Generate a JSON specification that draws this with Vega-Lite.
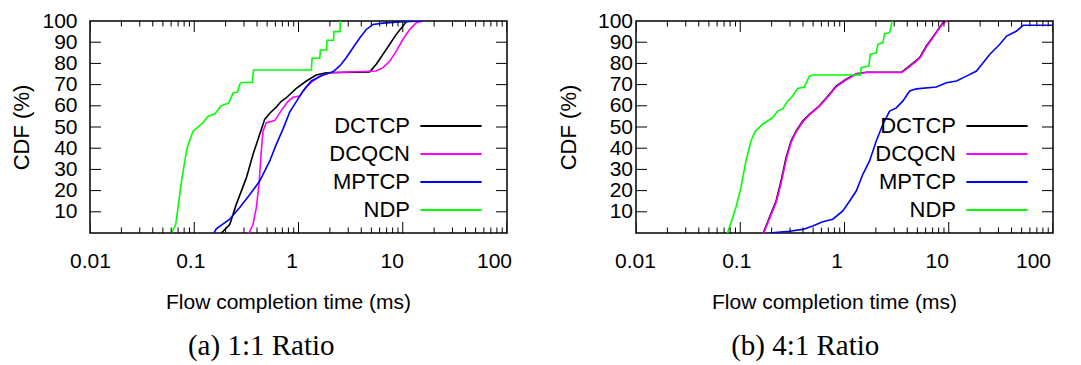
{
  "$schema": "https://vega.github.io/schema/vega-lite/v6.json",
  "padding": {"left": 10, "top": 9, "right": 5, "bottom": 5},
  "background": "white",
  "datasets": {
    "curves": [
    {"p":"a","s":"DCTCP","x":0.182,"y":0},{"p":"a","s":"DCTCP","x":0.219,"y":4},{"p":"a","s":"DCTCP","x":0.253,"y":13.5},{"p":"a","s":"DCTCP","x":0.316,"y":26},{"p":"a","s":"DCTCP","x":0.366,"y":37},{"p":"a","s":"DCTCP","x":0.424,"y":46.5},{"p":"a","s":"DCTCP","x":0.474,"y":53.6},{"p":"a","s":"DCTCP","x":0.53,"y":56.5},{"p":"a","s":"DCTCP","x":0.612,"y":59.4},{"p":"a","s":"DCTCP","x":0.68,"y":62},{"p":"a","s":"DCTCP","x":0.764,"y":63.8},{"p":"a","s":"DCTCP","x":0.953,"y":68.2},{"p":"a","s":"DCTCP","x":1.19,"y":71.7},{"p":"a","s":"DCTCP","x":1.48,"y":74.5},{"p":"a","s":"DCTCP","x":1.85,"y":75.6},{"p":"a","s":"DCTCP","x":4.82,"y":76},{"p":"a","s":"DCTCP","x":5.57,"y":79.6},{"p":"a","s":"DCTCP","x":6.47,"y":84.3},{"p":"a","s":"DCTCP","x":7.5,"y":89},{"p":"a","s":"DCTCP","x":8.67,"y":93.7},{"p":"a","s":"DCTCP","x":10.06,"y":97.6},{"p":"a","s":"DCTCP","x":10.8,"y":99.7},{"p":"a","s":"DCTCP","x":12,"y":100},
    {"p":"a","s":"DCQCN","x":0.335,"y":0},{"p":"a","s":"DCQCN","x":0.366,"y":4},{"p":"a","s":"DCQCN","x":0.394,"y":12},{"p":"a","s":"DCQCN","x":0.418,"y":23},{"p":"a","s":"DCQCN","x":0.44,"y":38.7},{"p":"a","s":"DCQCN","x":0.4565,"y":48},{"p":"a","s":"DCQCN","x":0.491,"y":52},{"p":"a","s":"DCQCN","x":0.591,"y":53},{"p":"a","s":"DCQCN","x":0.71,"y":59},{"p":"a","s":"DCQCN","x":0.793,"y":62},{"p":"a","s":"DCQCN","x":0.885,"y":64},{"p":"a","s":"DCQCN","x":1.027,"y":64.6},{"p":"a","s":"DCQCN","x":1.188,"y":68.9},{"p":"a","s":"DCQCN","x":1.377,"y":71.7},{"p":"a","s":"DCQCN","x":1.597,"y":74},{"p":"a","s":"DCQCN","x":1.99,"y":75.6},{"p":"a","s":"DCQCN","x":5.57,"y":76.4},{"p":"a","s":"DCQCN","x":6.47,"y":78},{"p":"a","s":"DCQCN","x":7.5,"y":81},{"p":"a","s":"DCQCN","x":8.67,"y":85.8},{"p":"a","s":"DCQCN","x":10.06,"y":91.4},{"p":"a","s":"DCQCN","x":11.66,"y":96},{"p":"a","s":"DCQCN","x":13.49,"y":99.2},{"p":"a","s":"DCQCN","x":15.64,"y":100},
    {"p":"a","s":"MPTCP","x":0.1545,"y":0},{"p":"a","s":"MPTCP","x":0.1627,"y":2},{"p":"a","s":"MPTCP","x":0.2188,"y":6.5},{"p":"a","s":"MPTCP","x":0.273,"y":12},{"p":"a","s":"MPTCP","x":0.34,"y":18},{"p":"a","s":"MPTCP","x":0.4244,"y":24.5},{"p":"a","s":"MPTCP","x":0.53,"y":34},{"p":"a","s":"MPTCP","x":0.612,"y":41.8},{"p":"a","s":"MPTCP","x":0.71,"y":49},{"p":"a","s":"MPTCP","x":0.823,"y":57},{"p":"a","s":"MPTCP","x":0.953,"y":62},{"p":"a","s":"MPTCP","x":1.104,"y":67},{"p":"a","s":"MPTCP","x":1.327,"y":71.7},{"p":"a","s":"MPTCP","x":1.718,"y":74.5},{"p":"a","s":"MPTCP","x":2.14,"y":76},{"p":"a","s":"MPTCP","x":2.485,"y":78.8},{"p":"a","s":"MPTCP","x":2.874,"y":82.7},{"p":"a","s":"MPTCP","x":3.333,"y":87.4},{"p":"a","s":"MPTCP","x":3.864,"y":92},{"p":"a","s":"MPTCP","x":4.47,"y":96},{"p":"a","s":"MPTCP","x":5.18,"y":98.4},{"p":"a","s":"MPTCP","x":6.47,"y":99},{"p":"a","s":"MPTCP","x":10.06,"y":99.7},{"p":"a","s":"MPTCP","x":15.64,"y":100},
    {"p":"a","s":"NDP","x":0.0603,"y":0},{"p":"a","s":"NDP","x":0.0664,"y":4},{"p":"a","s":"NDP","x":0.0763,"y":26},{"p":"a","s":"NDP","x":0.0852,"y":40},{"p":"a","s":"NDP","x":0.0973,"y":48},{"p":"a","s":"NDP","x":0.121,"y":52},{"p":"a","s":"NDP","x":0.1355,"y":55},{"p":"a","s":"NDP","x":0.155,"y":56},{"p":"a","s":"NDP","x":0.163,"y":57},{"p":"a","s":"NDP","x":0.18,"y":60},{"p":"a","s":"NDP","x":0.205,"y":61},{"p":"a","s":"NDP","x":0.215,"y":61.5},{"p":"a","s":"NDP","x":0.235,"y":66},{"p":"a","s":"NDP","x":0.26,"y":66.5},{"p":"a","s":"NDP","x":0.275,"y":70.5},{"p":"a","s":"NDP","x":0.29,"y":71},{"p":"a","s":"NDP","x":0.36,"y":71},{"p":"a","s":"NDP","x":0.37,"y":76.9},{"p":"a","s":"NDP","x":1.33,"y":76.9},{"p":"a","s":"NDP","x":1.35,"y":82.4},{"p":"a","s":"NDP","x":1.6,"y":82.4},{"p":"a","s":"NDP","x":1.62,"y":86.3},{"p":"a","s":"NDP","x":1.86,"y":86.3},{"p":"a","s":"NDP","x":1.88,"y":90.9},{"p":"a","s":"NDP","x":2.17,"y":90.9},{"p":"a","s":"NDP","x":2.19,"y":95},{"p":"a","s":"NDP","x":2.5,"y":95},{"p":"a","s":"NDP","x":2.52,"y":100},
    {"p":"b","s":"DCTCP","x":0.1664,"y":0},{"p":"b","s":"DCTCP","x":0.19,"y":7.2},{"p":"b","s":"DCTCP","x":0.2204,"y":15},{"p":"b","s":"DCTCP","x":0.2462,"y":24.5},{"p":"b","s":"DCTCP","x":0.275,"y":35.5},{"p":"b","s":"DCTCP","x":0.3072,"y":43.4},{"p":"b","s":"DCTCP","x":0.3432,"y":48},{"p":"b","s":"DCTCP","x":0.3972,"y":52.8},{"p":"b","s":"DCTCP","x":0.4608,"y":56},{"p":"b","s":"DCTCP","x":0.575,"y":60},{"p":"b","s":"DCTCP","x":0.7176,"y":65.4},{"p":"b","s":"DCTCP","x":0.832,"y":69.3},{"p":"b","s":"DCTCP","x":1.038,"y":72.5},{"p":"b","s":"DCTCP","x":1.296,"y":75.1},{"p":"b","s":"DCTCP","x":1.617,"y":75.8},{"p":"b","s":"DCTCP","x":3.51,"y":75.8},{"p":"b","s":"DCTCP","x":4.217,"y":78.8},{"p":"b","s":"DCTCP","x":5.26,"y":82.7},{"p":"b","s":"DCTCP","x":6.105,"y":88.2},{"p":"b","s":"DCTCP","x":7.335,"y":93.7},{"p":"b","s":"DCTCP","x":8.81,"y":99.2},{"p":"b","s":"DCTCP","x":9.5,"y":100},
    {"p":"b","s":"DCQCN","x":0.168,"y":0},{"p":"b","s":"DCQCN","x":0.192,"y":7},{"p":"b","s":"DCQCN","x":0.222,"y":14.6},{"p":"b","s":"DCQCN","x":0.248,"y":24},{"p":"b","s":"DCQCN","x":0.277,"y":35},{"p":"b","s":"DCQCN","x":0.309,"y":43},{"p":"b","s":"DCQCN","x":0.345,"y":47.8},{"p":"b","s":"DCQCN","x":0.4,"y":52.5},{"p":"b","s":"DCQCN","x":0.463,"y":55.8},{"p":"b","s":"DCQCN","x":0.578,"y":59.8},{"p":"b","s":"DCQCN","x":0.72,"y":65.2},{"p":"b","s":"DCQCN","x":0.835,"y":69},{"p":"b","s":"DCQCN","x":1.04,"y":72.3},{"p":"b","s":"DCQCN","x":1.3,"y":75},{"p":"b","s":"DCQCN","x":1.62,"y":75.7},{"p":"b","s":"DCQCN","x":3.55,"y":75.7},{"p":"b","s":"DCQCN","x":4.25,"y":78.6},{"p":"b","s":"DCQCN","x":5.3,"y":82.5},{"p":"b","s":"DCQCN","x":6.15,"y":88},{"p":"b","s":"DCQCN","x":7.38,"y":93.5},{"p":"b","s":"DCQCN","x":8.85,"y":99},{"p":"b","s":"DCQCN","x":9.6,"y":100},
    {"p":"b","s":"MPTCP","x":0.19,"y":0},{"p":"b","s":"MPTCP","x":0.2958,"y":0.8},{"p":"b","s":"MPTCP","x":0.3972,"y":1.7},{"p":"b","s":"MPTCP","x":0.4955,"y":3.3},{"p":"b","s":"MPTCP","x":0.6185,"y":5.3},{"p":"b","s":"MPTCP","x":0.772,"y":6.5},{"p":"b","s":"MPTCP","x":0.963,"y":10.4},{"p":"b","s":"MPTCP","x":1.117,"y":15},{"p":"b","s":"MPTCP","x":1.296,"y":19.8},{"p":"b","s":"MPTCP","x":1.5,"y":27.7},{"p":"b","s":"MPTCP","x":1.74,"y":34},{"p":"b","s":"MPTCP","x":2.017,"y":43.4},{"p":"b","s":"MPTCP","x":2.335,"y":51.3},{"p":"b","s":"MPTCP","x":2.708,"y":57.5},{"p":"b","s":"MPTCP","x":3.14,"y":59},{"p":"b","s":"MPTCP","x":3.636,"y":62.3},{"p":"b","s":"MPTCP","x":4.217,"y":67},{"p":"b","s":"MPTCP","x":4.89,"y":68},{"p":"b","s":"MPTCP","x":7.615,"y":68.9},{"p":"b","s":"MPTCP","x":9.5,"y":70.9},{"p":"b","s":"MPTCP","x":11.86,"y":71.7},{"p":"b","s":"MPTCP","x":14.8,"y":74},{"p":"b","s":"MPTCP","x":18.46,"y":76.4},{"p":"b","s":"MPTCP","x":21.37,"y":80.3},{"p":"b","s":"MPTCP","x":24.8,"y":84.3},{"p":"b","s":"MPTCP","x":30.9,"y":89},{"p":"b","s":"MPTCP","x":35.9,"y":92.9},{"p":"b","s":"MPTCP","x":44.8,"y":95.3},{"p":"b","s":"MPTCP","x":51.8,"y":98},{"p":"b","s":"MPTCP","x":100,"y":98},
    {"p":"b","s":"NDP","x":0.0755,"y":0},{"p":"b","s":"NDP","x":0.0909,"y":12},{"p":"b","s":"NDP","x":0.1016,"y":21.4},{"p":"b","s":"NDP","x":0.1134,"y":34},{"p":"b","s":"NDP","x":0.1268,"y":43.4},{"p":"b","s":"NDP","x":0.1394,"y":48},{"p":"b","s":"NDP","x":0.1639,"y":51.3},{"p":"b","s":"NDP","x":0.2045,"y":54.4},{"p":"b","s":"NDP","x":0.2285,"y":57.5},{"p":"b","s":"NDP","x":0.2552,"y":58.5},{"p":"b","s":"NDP","x":0.285,"y":62.3},{"p":"b","s":"NDP","x":0.3184,"y":64.6},{"p":"b","s":"NDP","x":0.3556,"y":68.2},{"p":"b","s":"NDP","x":0.4125,"y":68.9},{"p":"b","s":"NDP","x":0.4608,"y":74},{"p":"b","s":"NDP","x":0.4955,"y":74.5},{"p":"b","s":"NDP","x":1.416,"y":74.5},{"p":"b","s":"NDP","x":1.447,"y":78},{"p":"b","s":"NDP","x":1.713,"y":78.8},{"p":"b","s":"NDP","x":1.767,"y":84.3},{"p":"b","s":"NDP","x":2.017,"y":85},{"p":"b","s":"NDP","x":2.09,"y":89},{"p":"b","s":"NDP","x":2.335,"y":89.8},{"p":"b","s":"NDP","x":2.424,"y":94},{"p":"b","s":"NDP","x":2.708,"y":94.5},{"p":"b","s":"NDP","x":2.875,"y":100}
    ],
    "xt": [
      {"v":0.01,"k":"major"},{"v":0.02,"k":"minor"},{"v":0.03,"k":"minor"},{"v":0.04,"k":"minor"},{"v":0.05,"k":"minor"},{"v":0.06,"k":"minor"},{"v":0.07,"k":"minor"},{"v":0.08,"k":"minor"},{"v":0.09,"k":"minor"},
      {"v":0.1,"k":"major"},{"v":0.2,"k":"minor"},{"v":0.3,"k":"minor"},{"v":0.4,"k":"minor"},{"v":0.5,"k":"minor"},{"v":0.6,"k":"minor"},{"v":0.7,"k":"minor"},{"v":0.8,"k":"minor"},{"v":0.9,"k":"minor"},
      {"v":1,"k":"major"},{"v":2,"k":"minor"},{"v":3,"k":"minor"},{"v":4,"k":"minor"},{"v":5,"k":"minor"},{"v":6,"k":"minor"},{"v":7,"k":"minor"},{"v":8,"k":"minor"},{"v":9,"k":"minor"},
      {"v":10,"k":"major"},{"v":20,"k":"minor"},{"v":30,"k":"minor"},{"v":40,"k":"minor"},{"v":50,"k":"minor"},{"v":60,"k":"minor"},{"v":70,"k":"minor"},{"v":80,"k":"minor"},{"v":90,"k":"minor"},
      {"v":100,"k":"major"}
    ],
    "yt": [{"v":10},{"v":20},{"v":30},{"v":40},{"v":50},{"v":60},{"v":70},{"v":80},{"v":90}]
  },
  "hconcat": [
    {
      "width": 417, "height": 212,
      "title": {"text": "(a) 1:1 Ratio", "orient": "bottom", "frame": "bounds", "anchor": "middle", "font": "Liberation Serif", "fontSize": 29, "fontWeight": "normal", "color": "black", "offset": 20},
      "resolve": {"axis": {"x": "independent", "y": "independent"}},
      "layer": [
        {
          "data": {"name": "curves"},
          "transform": [{"filter": "datum.p == 'a'"}],
          "mark": {"type": "line", "strokeWidth": 1.6, "clip": true},
          "encoding": {
            "x": {"field": "x", "type": "quantitative", "scale": {"type": "log", "domain": [0.01, 100], "nice": false},
              "axis": {"orient": "bottom", "title": "Flow completion time (ms)", "titleX": 198, "titlePadding": 20,
                "values": [0.01,0.1,1,10,100], "ticks": false,
                "labelExpr": "datum.value==0.01?'0.01':datum.value==0.1?'0.1':datum.value==1?'1':datum.value==10?'10':'100'",
                "labelPadding": 17,
                "labelOffset": {"condition": [{"test": "datum.value==0.01", "value": 0}, {"test": "datum.value==0.1", "value": -4}, {"test": "datum.value==1", "value": -7}, {"test": "datum.value==10", "value": -11}], "value": -13}}},
            "y": {"field": "y", "type": "quantitative", "scale": {"domain": [0, 100], "nice": false},
              "axis": {"orient": "left", "title": "CDF (%)", "titleFontSize": 22, "values": [10,20,30,40,50,60,70,80,90,100], "ticks": false, "labelPadding": 13, "titlePadding": 8}},
            "color": {"field": "s", "type": "nominal",
              "scale": {"domain": ["DCTCP","DCQCN","MPTCP","NDP"], "range": ["#000000","#ff00ff","#0000ff","#00ff00"]},
              "legend": {"orient": "none", "legendX": 348, "legendY": 92, "title": null, "symbolType": "M-2.55,0H2.55", "symbolSize": 576, "symbolStrokeWidth": 2, "labelAlign": "right", "labelOffset": -54, "labelFontSize": 22, "labelFont": "Liberation Sans", "labelColor": "black", "rowPadding": 4, "padding": 0}}
          }
        },
        {
          "data": {"name": "xt"},
          "mark": {"type": "tick", "orient": "vertical", "thickness": 1, "color": "black", "opacity": 1, "clip": true},
          "encoding": {
            "x": {"field": "v", "type": "quantitative", "axis": null},
            "y": {"datum": 0, "type": "quantitative", "axis": null},
            "size": {"field": "k", "type": "nominal", "scale": {"domain": ["major","minor"], "range": [22, 11]}, "legend": null}
          }
        },
        {
          "data": {"name": "xt"},
          "mark": {"type": "tick", "orient": "vertical", "thickness": 1, "color": "black", "opacity": 1, "clip": true},
          "encoding": {
            "x": {"field": "v", "type": "quantitative", "axis": null},
            "y": {"datum": 100, "type": "quantitative", "axis": null},
            "size": {"field": "k", "type": "nominal", "scale": {"domain": ["major","minor"], "range": [22, 11]}, "legend": null}
          }
        },
        {
          "data": {"name": "yt"},
          "mark": {"type": "tick", "orient": "horizontal", "thickness": 1, "size": 22, "color": "black", "opacity": 1, "clip": true},
          "encoding": {
            "y": {"field": "v", "type": "quantitative", "axis": null},
            "x": {"datum": 0.01, "type": "quantitative", "axis": null}
          }
        },
        {
          "data": {"name": "yt"},
          "mark": {"type": "tick", "orient": "horizontal", "thickness": 1, "size": 22, "color": "black", "opacity": 1, "clip": true},
          "encoding": {
            "y": {"field": "v", "type": "quantitative", "axis": null},
            "x": {"datum": 100, "type": "quantitative", "axis": null}
          }
        }
      ]
    },
    {
      "width": 417, "height": 212,
      "title": {"text": "(b) 4:1 Ratio", "orient": "bottom", "frame": "bounds", "anchor": "middle", "font": "Liberation Serif", "fontSize": 29, "fontWeight": "normal", "color": "black", "offset": 20},
      "resolve": {"axis": {"x": "independent", "y": "independent"}},
      "layer": [
        {
          "data": {"name": "curves"},
          "transform": [{"filter": "datum.p == 'b'"}],
          "mark": {"type": "line", "strokeWidth": 1.6, "clip": true},
          "encoding": {
            "x": {"field": "x", "type": "quantitative", "scale": {"type": "log", "domain": [0.01, 100], "nice": false},
              "axis": {"orient": "bottom", "title": "Flow completion time (ms)", "titleX": 198, "titlePadding": 20,
                "values": [0.01,0.1,1,10,100], "ticks": false,
                "labelExpr": "datum.value==0.01?'0.01':datum.value==0.1?'0.1':datum.value==1?'1':datum.value==10?'10':'100'",
                "labelPadding": 17,
                "labelOffset": {"condition": [{"test": "datum.value==0.01", "value": -1}, {"test": "datum.value==0.1", "value": -4}, {"test": "datum.value==1", "value": -8}, {"test": "datum.value==10", "value": -12}], "value": -20}}},
            "y": {"field": "y", "type": "quantitative", "scale": {"domain": [0, 100], "nice": false},
              "axis": {"orient": "left", "title": "CDF (%)", "titleFontSize": 22, "values": [10,20,30,40,50,60,70,80,90,100], "ticks": false, "labelPadding": 3.5, "titlePadding": 17}},
            "color": {"field": "s", "type": "nominal",
              "scale": {"domain": ["DCTCP","DCQCN","MPTCP","NDP"], "range": ["#000000","#ff00ff","#0000ff","#00ff00"]},
              "legend": {"orient": "none", "legendX": 348, "legendY": 92, "title": null, "symbolType": "M-2.55,0H2.55", "symbolSize": 576, "symbolStrokeWidth": 2, "labelAlign": "right", "labelOffset": -54, "labelFontSize": 22, "labelFont": "Liberation Sans", "labelColor": "black", "rowPadding": 4, "padding": 0}}
          }
        },
        {
          "data": {"name": "xt"},
          "mark": {"type": "tick", "orient": "vertical", "thickness": 1, "color": "black", "opacity": 1, "clip": true},
          "encoding": {
            "x": {"field": "v", "type": "quantitative", "axis": null},
            "y": {"datum": 0, "type": "quantitative", "axis": null},
            "size": {"field": "k", "type": "nominal", "scale": {"domain": ["major","minor"], "range": [22, 11]}, "legend": null}
          }
        },
        {
          "data": {"name": "xt"},
          "mark": {"type": "tick", "orient": "vertical", "thickness": 1, "color": "black", "opacity": 1, "clip": true},
          "encoding": {
            "x": {"field": "v", "type": "quantitative", "axis": null},
            "y": {"datum": 100, "type": "quantitative", "axis": null},
            "size": {"field": "k", "type": "nominal", "scale": {"domain": ["major","minor"], "range": [22, 11]}, "legend": null}
          }
        },
        {
          "data": {"name": "yt"},
          "mark": {"type": "tick", "orient": "horizontal", "thickness": 1, "size": 22, "color": "black", "opacity": 1, "clip": true},
          "encoding": {
            "y": {"field": "v", "type": "quantitative", "axis": null},
            "x": {"datum": 0.01, "type": "quantitative", "axis": null}
          }
        },
        {
          "data": {"name": "yt"},
          "mark": {"type": "tick", "orient": "horizontal", "thickness": 1, "size": 22, "color": "black", "opacity": 1, "clip": true},
          "encoding": {
            "y": {"field": "v", "type": "quantitative", "axis": null},
            "x": {"datum": 100, "type": "quantitative", "axis": null}
          }
        }
      ]
    }
  ],
  "spacing": 43,
  "resolve": {"scale": {"color": "independent"}},
  "config": {
    "font": "Liberation Sans",
    "view": {"stroke": "black", "strokeWidth": 1.5},
    "axis": {"grid": false, "domain": false, "labelFont": "Liberation Sans", "titleFont": "Liberation Sans", "labelColor": "black", "titleColor": "black", "labelFontSize": 21, "titleFontSize": 21, "titleFontWeight": "normal", "labelFlush": false, "labelOverlap": false}
  }
}
